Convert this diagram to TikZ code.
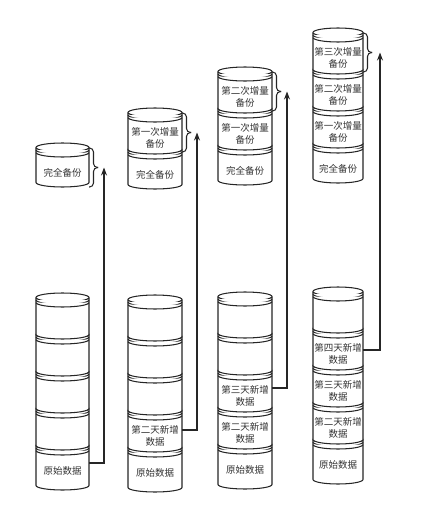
\documentclass[tikz,border=0pt]{standalone}
\usepackage{fontspec}
\setmainfont{Noto Sans CJK SC}
\usetikzlibrary{arrows.meta}

% one disk of a stack: name, left x, top y, width, height, text
\newcommand{\datadisk}[6]{%
  \pgfmathsetmacro{\dxr}{#2+#4}%
  \pgfmathsetmacro{\drx}{#4/2}%
  \pgfmathsetmacro{\dcx}{#2+#4/2}%
  \filldraw[disk] (#2,#3+4.5) arc[start angle=180,end angle=360,x radius=\drx,y radius=4.5]
    -- (\dxr,#3+#5-4.5) arc[start angle=0,end angle=180,x radius=\drx,y radius=4.5] -- cycle;
  \foreach \r in {0,2.5,5}
    \draw[disk] (#2,#3+4.5+\r) arc[start angle=180,end angle=0,x radius=\drx,y radius=4.5];
  \node[disk text, minimum width=#4] (#1) at (\dcx,#3+30) {#6};
}

% curly bracket: right x, top y, bottom y
\newcommand{\diskbracket}[3]{%
  \pgfmathsetmacro{\bm}{(#2+#3)/2}%
  \draw[bracket] (#1,#2) -- (#1+4.5,#2) -- (#1+4.5,\bm) -- (#1+9,\bm);
  \draw[bracket] (#1+9,\bm) -- (#1+4.5,\bm) -- (#1+4.5,#3) -- (#1,#3);
}

\begin{document}
\begin{tikzpicture}[x=1pt,y=-1pt,
    disk/.style={draw=black!85,fill=white,line width=1.05pt},
    disk text/.style={inner sep=0pt,align=center,text=black!80,font=\fontsize{9.5pt}{12pt}\selectfont},
    bracket/.style={draw=black!85,line width=1.05pt,rounded corners=4pt},
    flow/.style={draw=black!85,line width=1.05pt,-{Stealth[length=8pt,width=6pt]}}]
  \useasboundingbox (0,0) rectangle (421,514);

  % day 1
  \datadisk{f1}{36}{143}{53}{44}{完全备份}
  \diskbracket{89}{148}{187}
  \coordinate (t1) at (104,167.5);
  \datadisk{b1e}{36}{441}{53}{49}{原始数据}
  \datadisk{b1d}{36}{404}{53}{46}{}
  \datadisk{b1c}{36}{367}{53}{46}{}
  \datadisk{b1b}{36}{330}{53}{46}{}
  \datadisk{b1a}{36}{293}{53}{46}{}

  % day 2
  \datadisk{f2}{128}{145}{54}{44}{完全备份}
  \datadisk{i2a}{128}{108}{54}{46}{第一次增量\\备份}
  \diskbracket{182}{113}{152}
  \coordinate (t2) at (197,132.5);
  \datadisk{b2e}{128}{443}{54}{49}{原始数据}
  \datadisk{b2d}{128}{406}{54}{46}{第二天新增\\数据}
  \datadisk{b2c}{128}{369}{54}{46}{}
  \datadisk{b2b}{128}{332}{54}{46}{}
  \datadisk{b2a}{128}{295}{54}{46}{}

  % day 3
  \datadisk{f3}{218}{141}{54}{44}{完全备份}
  \datadisk{i3a}{218}{104}{54}{46}{第一次增量\\备份}
  \datadisk{i3b}{218}{67}{54}{46}{第二次增量\\备份}
  \diskbracket{272}{72}{111}
  \coordinate (t3) at (287,91.5);
  \datadisk{b3e}{218}{440}{54}{49}{原始数据}
  \datadisk{b3d}{218}{403}{54}{46}{第二天新增\\数据}
  \datadisk{b3c}{218}{366}{54}{46}{第三天新增\\数据}
  \datadisk{b3b}{218}{329}{54}{46}{}
  \datadisk{b3a}{218}{292}{54}{46}{}

  % day 4
  \datadisk{f4}{313}{139}{50}{44}{完全备份}
  \datadisk{i4a}{313}{102}{50}{46}{第一次增量\\备份}
  \datadisk{i4b}{313}{65}{50}{46}{第二次增量\\备份}
  \datadisk{i4c}{313}{28}{50}{46}{第三次增量\\备份}
  \diskbracket{363}{33}{72}
  \coordinate (t4) at (380,52.5);
  \datadisk{b4e}{313}{435}{50}{49}{原始数据}
  \datadisk{b4d}{313}{398}{50}{46}{第二天新增\\数据}
  \datadisk{b4c}{313}{361}{50}{46}{第三天新增\\数据}
  \datadisk{b4b}{313}{324}{50}{46}{第四天新增\\数据}
  \datadisk{b4a}{313}{287}{50}{46}{}

  \draw[flow] ([yshift=8pt]b1e.east) -| (t1);
  \draw[flow] ([yshift=6pt]b2d.east) -| (t2);
  \draw[flow] ([yshift=8pt]b3c.east) -| (t3);
  \draw[flow] ([yshift=4pt]b4b.east) -| (t4);
\end{tikzpicture}
\end{document}
